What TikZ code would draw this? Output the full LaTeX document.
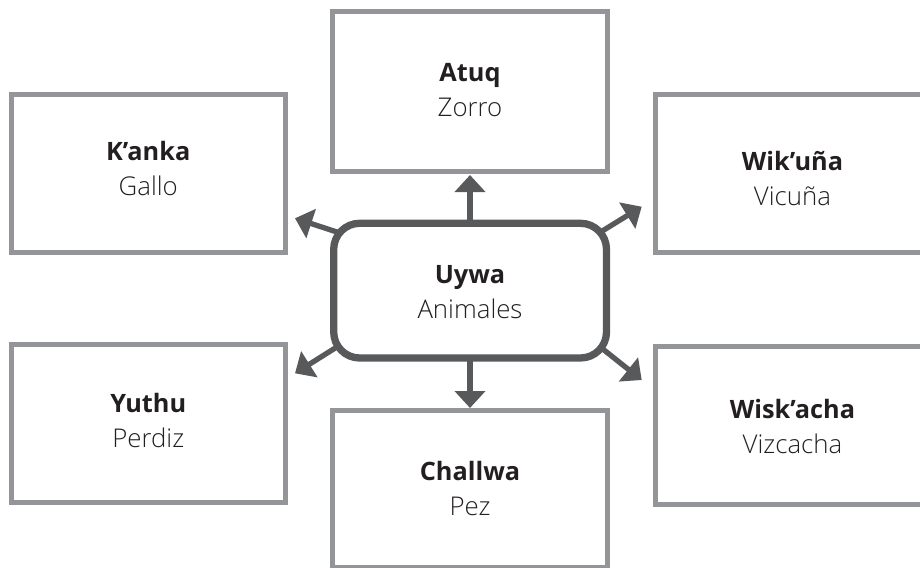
\documentclass[tikz,border=0pt]{standalone}
\usepackage{fontspec}
\setmainfont{Open Sans}
\IfFontExistsTF{Open Sans Light}
  {\newfontfamily\thinfont{Open Sans Light}}
  {\newfontfamily\thinfont{Open Sans}}
\usetikzlibrary{arrows.meta}
\definecolor{boxgray}{HTML}{939598}
\definecolor{hubgray}{HTML}{58595B}
\definecolor{ink}{HTML}{231F20}
\newcommand\animal[2]{\textbf{#1}\\{\thinfont\fontsize{25.8}{35}\selectfont #2}}
\begin{document}
\begin{tikzpicture}[x=1pt,y=-1pt,
  animalbox/.style={draw=boxgray,line width=5pt,fill=white,inner sep=0pt,
    minimum width=275pt,minimum height=158pt},
  hubbox/.style={draw=hubgray,line width=7.3pt,fill=white,rounded corners=26pt,
    inner sep=0pt,minimum width=272.8pt,minimum height=134.7pt},
  lbl/.style={align=center,text=ink,inner sep=0pt,
    font=\fontsize{25.3}{35}\selectfont},
  spoke/.style={draw=hubgray,line width=5.3pt,
    -{Triangle[length=17pt,width=30pt]}}]
\useasboundingbox (0,0) rectangle (920,567);

% outer boxes
\node[animalbox,minimum height=159pt] (atuq) at (470,91.5) {};
\node[animalbox,minimum width=274.5pt] (kanka) at (148.25,173.5) {};
\node[animalbox] (wikuna) at (792.5,173.5) {};
\node[animalbox,minimum width=274.5pt] (yuthu) at (148.25,423.5) {};
\node[animalbox,minimum height=157pt] (challwa) at (470,489) {};
\node[animalbox] (wiskacha) at (792.5,425.5) {};

% spoke ends
\coordinate (sN) at (470,226);   \coordinate (tN) at (470,175);
\coordinate (sS) at (470,355);   \coordinate (tS) at (470,408);
\coordinate (sNW) at (340,233);  \coordinate (tNW) at (295,218.3);
\coordinate (sNE) at (599,233);  \coordinate (tNE) at (641.7,206.7);
\coordinate (sSW) at (340,345);  \coordinate (tSW) at (295,373.3);
\coordinate (sSE) at (599,346);  \coordinate (tSE) at (641.7,380);

\draw[spoke] (sN) -- (tN);
\draw[spoke] (sS) -- (tS);
\draw[spoke] (sNW) -- (tNW);
\draw[spoke] (sNE) -- (tNE);
\draw[spoke] (sSW) -- (tSW);
\draw[spoke] (sSE) -- (tSE);

% central box
\node[hubbox] (uywa) at (470.1,290.65) {};

% labels
\node[lbl] (uywaT) at (470,292.5) {\animal{Uywa}{Animales}};
\node[lbl] (atuqT) at (470,90.5) {\animal{Atuq}{Zorro}};
\node[lbl] (kankaT) at (148.25,168.3) {\animal{K’anka}{Gallo}};
\node[lbl] (wikunaT) at (792.5,178.3) {\animal{Wik’uña}{Vicuña}};
\node[lbl] (yuthuT) at (148.25,421) {\animal{Yuthu}{Perdiz}};
\node[lbl] (challwaT) at (470,488.3) {\animal{Challwa}{Pez}};
\node[lbl] (wiskachaT) at (792.5,426.7) {\animal{Wisk’acha}{Vizcacha}};
\end{tikzpicture}
\end{document}
